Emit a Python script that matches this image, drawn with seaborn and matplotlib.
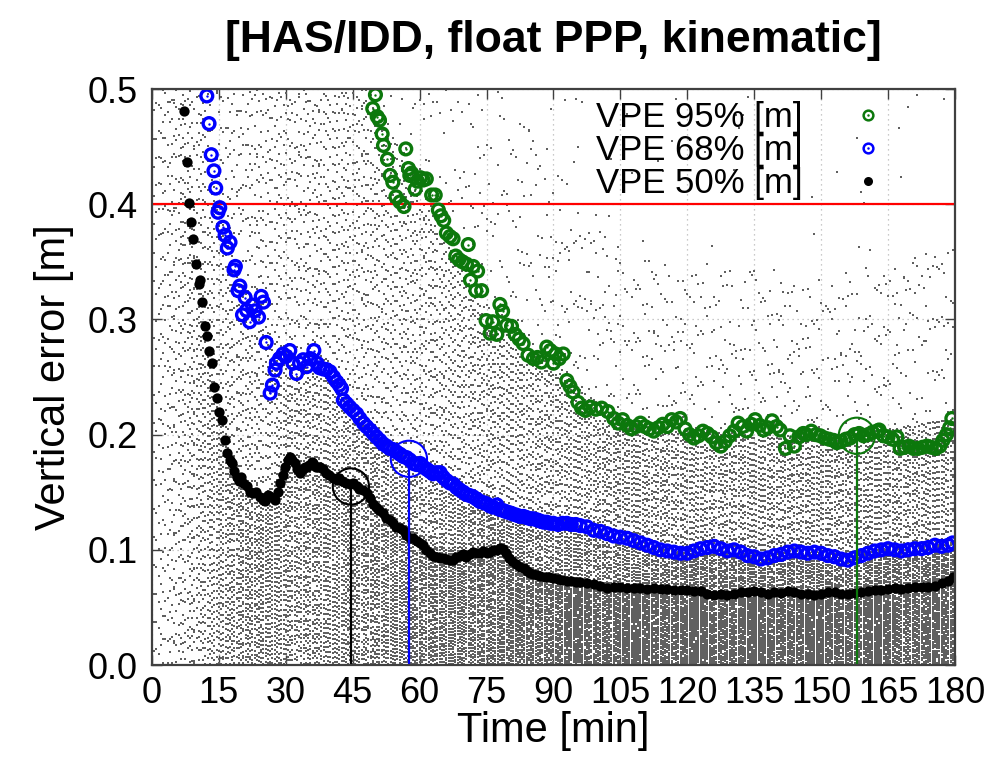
import numpy as np
import pandas as pd
import matplotlib
matplotlib.use("Agg")
import matplotlib.pyplot as plt
import seaborn as sns
from matplotlib.lines import Line2D
from matplotlib.legend_handler import HandlerTuple

# ---------------- data ----------------
title = "[HAS/IDD, float PPP, kinematic]"
x_label = "Time [min]"
y_label = "Vertical error [m]"
x_ticks = [0, 15, 30, 45, 60, 75, 90, 105, 120, 135, 150, 165, 180]
y_ticks = [0.0, 0.1, 0.2, 0.3, 0.4, 0.5]
threshold = 0.4

# VPE 50% [m]
t50 = [7.2, 7.8, 8.4, 8.8, 9.3, 9.9, 10.5, 10.8, 11.3, 11.9, 12.3, 12.8, 13.4, 13.9, 14.5, 15.1,
       15.6, 16.4, 16.9, 17.4, 17.9, 18.5, 19.0, 19.5, 20.0, 20.4, 21.2, 22.0, 22.7, 23.4, 24.2,
       24.8, 25.3, 26.1, 26.8, 27.6, 28.2, 28.7, 29.3, 29.8, 30.4, 30.9, 31.5, 32.0, 32.6, 33.2,
       33.8, 34.3, 34.7, 35.3, 35.8, 36.2, 36.8, 37.2, 37.7, 38.3, 39.1, 39.8, 40.5, 41.4, 42.0,
       42.7, 43.6, 44.3, 45.0, 45.9, 46.5, 47.2, 48.1, 48.8, 49.6, 50.3, 51.0, 51.8, 52.5, 53.3,
       54.1, 54.8, 55.5, 56.3, 57.0, 57.8, 58.6, 59.4, 60.1, 60.8, 61.5, 62.3, 63.0, 63.8, 64.5,
       65.3, 66.0, 66.8, 67.5, 68.2, 69.0, 69.8, 70.5, 71.2, 72.0, 72.8, 73.5, 74.3, 75.0, 75.8,
       76.5, 77.3, 78.0, 78.6, 79.3, 80.0, 80.8, 81.5, 82.5, 83.3, 84.0, 84.8, 85.5, 86.3, 87.0,
       88.0, 89.0, 90.0, 91.0, 92.0, 93.0, 94.0, 95.0, 96.0, 97.5, 99.0, 100.5, 102.0, 103.5,
       105.0, 106.5, 108.0, 109.5, 111.0, 112.5, 114.0, 115.5, 117.0, 118.5, 120.0, 121.5, 123.0,
       124.5, 126.0, 127.5, 129.0, 130.5, 132.0, 133.5, 135.0, 136.5, 138.0, 139.5, 141.0, 142.5,
       144.0, 145.5, 147.0, 148.5, 150.0, 151.5, 153.0, 154.5, 156.0, 157.5, 159.0, 160.5, 162.0,
       163.5, 165.0, 166.5, 168.0, 169.5, 171.0, 172.5, 174.0, 175.5, 177.0, 178.5, 179.5]
v50 = [0.481, 0.437, 0.401, 0.385, 0.370, 0.348, 0.331, 0.334, 0.315, 0.294, 0.286, 0.273, 0.262,
       0.241, 0.232, 0.220, 0.213, 0.195, 0.184, 0.178, 0.175, 0.168, 0.163, 0.160, 0.163, 0.158,
       0.155, 0.150, 0.149, 0.150, 0.146, 0.143, 0.142, 0.1475, 0.146, 0.143, 0.150, 0.158, 0.165,
       0.172, 0.178, 0.181, 0.178, 0.175, 0.170, 0.167, 0.170, 0.172, 0.172, 0.174, 0.176, 0.175,
       0.172, 0.172, 0.172, 0.170, 0.167, 0.165, 0.162, 0.161, 0.162, 0.160, 0.158, 0.157, 0.158,
       0.155, 0.153, 0.152, 0.149, 0.145, 0.140, 0.137, 0.135, 0.1316, 0.128, 0.126, 0.123, 0.120,
       0.119, 0.117, 0.113, 0.110, 0.110, 0.108, 0.106, 0.104, 0.100, 0.097, 0.095, 0.094, 0.093,
       0.093, 0.092, 0.091, 0.091, 0.094, 0.095, 0.096, 0.094, 0.096, 0.098, 0.097, 0.097, 0.099,
       0.097, 0.098, 0.100, 0.100, 0.102, 0.101, 0.097, 0.093, 0.090, 0.088, 0.0855, 0.084, 0.082,
       0.080, 0.079, 0.078, 0.077, 0.076, 0.0765, 0.0755, 0.075, 0.074, 0.073, 0.073, 0.072, 0.072,
       0.071, 0.070, 0.069, 0.067, 0.068, 0.068, 0.067, 0.067, 0.067, 0.066, 0.067, 0.066, 0.066,
       0.065, 0.065, 0.065, 0.064, 0.064, 0.062, 0.061, 0.062, 0.061, 0.062, 0.063, 0.063, 0.064,
       0.063, 0.062, 0.063, 0.0625, 0.064, 0.063, 0.062, 0.062, 0.061, 0.062, 0.063, 0.063, 0.062,
       0.062, 0.0625, 0.063, 0.064, 0.065, 0.065, 0.066, 0.067, 0.066, 0.067, 0.068, 0.068, 0.068,
       0.069, 0.071, 0.073, 0.076]

# VPE 68% [m]
t68 = [12.3, 12.8, 13.3, 13.9, 14.3, 14.8, 15.2, 15.9, 16.4, 16.9, 17.5, 18.4, 18.7, 19.3, 19.7,
       20.3, 20.9, 21.2, 21.9, 22.5, 23.1, 23.9, 24.5, 25.0, 25.6, 26.5, 27.0, 27.6, 27.9, 28.6,
       29.4, 30.1, 30.9, 31.6, 32.4, 33.1, 33.9, 34.7, 35.5, 36.3, 37.0, 37.6, 38.4, 39.1, 39.9,
       40.7, 41.4, 42.0, 42.5, 42.9, 43.6, 44.3, 45.1, 45.9, 46.6, 47.4, 48.1, 48.9, 49.6, 50.3,
       51.1, 51.8, 52.6, 53.3, 54.1, 54.8, 55.6, 56.3, 57.1, 57.8, 58.6, 59.3, 60.1, 60.8, 61.6,
       62.3, 63.0, 63.8, 64.6, 65.3, 66.1, 66.8, 67.6, 68.3, 69.0, 69.8, 70.5, 71.3, 72.0, 72.8,
       73.5, 74.3, 75.0, 75.8, 76.5, 77.3, 78.0, 78.8, 79.5, 80.3, 81.0, 81.8, 82.5, 83.3, 84.0,
       84.8, 85.5, 86.3, 87.0, 87.8, 88.5, 89.3, 90.0, 91.0, 92.0, 93.0, 94.0, 95.0, 96.0, 97.5,
       99.0, 100.5, 102.0, 103.5, 105.0, 106.5, 108.0, 109.5, 111.0, 112.5, 114.0, 115.5, 117.0,
       118.5, 120.0, 121.5, 123.0, 124.5, 126.0, 127.5, 129.0, 130.5, 132.0, 133.5, 135.0, 136.5,
       138.0, 139.5, 141.0, 142.5, 144.0, 145.5, 147.0, 148.5, 150.0, 151.5, 153.0, 154.5, 156.0,
       157.5, 159.0, 160.5, 162.0, 163.5, 165.0, 166.5, 168.0, 169.5, 171.0, 172.5, 174.0, 175.5,
       177.0, 178.5, 179.5]
v68 = [0.494, 0.470, 0.443, 0.429, 0.414, 0.393, 0.397, 0.380, 0.373, 0.362, 0.367, 0.343, 0.346,
       0.325, 0.329, 0.304, 0.319, 0.308, 0.298, 0.3125, 0.3075, 0.302, 0.320, 0.315, 0.280, 0.236,
       0.243, 0.256, 0.262, 0.266, 0.270, 0.268, 0.273, 0.262, 0.253, 0.262, 0.265, 0.259, 0.266,
       0.273, 0.262, 0.258, 0.257, 0.2565, 0.2546, 0.250, 0.246, 0.243, 0.240, 0.230, 0.227, 0.224,
       0.221, 0.218, 0.214, 0.210, 0.207, 0.204, 0.201, 0.198, 0.195, 0.192, 0.190, 0.188, 0.187,
       0.185, 0.183, 0.181, 0.180, 0.178, 0.175, 0.174, 0.175, 0.172, 0.170, 0.168, 0.166, 0.167,
       0.167, 0.163, 0.160, 0.158, 0.157, 0.154, 0.152, 0.150, 0.148, 0.147, 0.146, 0.144, 0.142,
       0.141, 0.140, 0.138, 0.137, 0.139, 0.135, 0.134, 0.133, 0.132, 0.131, 0.130, 0.129, 0.129,
       0.128, 0.127, 0.127, 0.126, 0.125, 0.124, 0.124, 0.123, 0.123, 0.122, 0.123, 0.123, 0.122,
       0.122, 0.121, 0.120, 0.117, 0.116, 0.114, 0.112, 0.111, 0.110, 0.108, 0.106, 0.104, 0.102,
       0.100, 0.099, 0.098, 0.097, 0.097, 0.099, 0.101, 0.102, 0.103, 0.101, 0.099, 0.100, 0.098,
       0.095, 0.094, 0.092, 0.093, 0.095, 0.096, 0.098, 0.099, 0.098, 0.097, 0.098, 0.097, 0.095,
       0.094, 0.092, 0.091, 0.093, 0.095, 0.097, 0.099, 0.100, 0.101, 0.100, 0.099, 0.100, 0.101,
       0.101, 0.102, 0.104, 0.103, 0.104, 0.106]

# VPE 95% [m]
t95 = [49.5, 50.1, 50.5, 51.0, 51.6, 51.9, 52.8, 53.4, 54.0, 54.7, 55.6, 56.5, 56.9, 57.5, 57.8,
       58.2, 59.0, 59.5, 60.2, 60.8, 61.5, 62.7, 63.5, 64.2, 64.8, 65.4, 66.0, 66.8, 67.5, 68.1,
       68.8, 69.6, 70.5, 70.9, 71.4, 72.0, 72.6, 73.0, 73.9, 74.9, 75.8, 76.4, 77.3, 78.0, 78.6,
       79.5, 80.6, 81.4, 82.3, 83.2, 84.3, 85.5, 86.4, 87.3, 88.5, 89.3, 90.0, 90.5, 91.3, 92.2,
       93.0, 93.7, 94.4, 95.5, 96.3, 97.2, 98.2, 99.5, 100.8, 102.2, 103.5, 104.5, 105.5, 106.5,
       107.5, 108.5, 109.5, 110.5, 111.5, 112.5, 113.5, 114.5, 115.5, 116.5, 117.5, 118.4, 119.5,
       120.5, 121.5, 122.5, 123.5, 124.5, 125.5, 126.5, 127.5, 128.5, 129.5, 130.5, 131.4, 132.4,
       133.3, 134.3, 135.2, 136.2, 137.1, 138.0, 139.0, 140.0, 140.8, 142.0, 143.0, 144.0, 145.0,
       146.0, 146.7, 147.8, 148.8, 149.8, 150.8, 151.8, 152.8, 153.5, 154.5, 155.5, 156.5, 157.5,
       158.5, 159.5, 160.5, 161.5, 162.5, 163.0, 164.0, 165.0, 166.0, 167.0, 167.7, 168.7, 169.7,
       170.7, 171.7, 172.7, 173.7, 174.7, 175.7, 176.6, 177.3, 178.1, 178.8, 179.3]
v95 = [0.483, 0.495, 0.476, 0.473, 0.461, 0.451, 0.439, 0.425, 0.419, 0.4065, 0.402, 0.398, 0.448,
       0.431, 0.425, 0.427, 0.413, 0.420, 0.423, 0.421, 0.422, 0.408, 0.408, 0.395, 0.390, 0.386,
       0.375, 0.372, 0.370, 0.355, 0.352, 0.350, 0.348, 0.365, 0.334, 0.346, 0.325, 0.342, 0.325,
       0.299, 0.288, 0.298, 0.287, 0.313, 0.307, 0.295, 0.294, 0.287, 0.283, 0.279, 0.269, 0.266,
       0.267, 0.263, 0.276, 0.273, 0.262, 0.270, 0.266, 0.270, 0.247, 0.242, 0.237, 0.228, 0.223,
       0.221, 0.224, 0.222, 0.223, 0.220, 0.214, 0.210, 0.213, 0.208, 0.205, 0.207, 0.210, 0.207,
       0.205, 0.203, 0.206, 0.209, 0.207, 0.213, 0.211, 0.214, 0.205, 0.200, 0.197, 0.199, 0.203,
       0.201, 0.198, 0.193, 0.190, 0.194, 0.199, 0.203, 0.210, 0.207, 0.203, 0.209, 0.213, 0.208,
       0.204, 0.206, 0.212, 0.207, 0.204, 0.188, 0.199, 0.190, 0.198, 0.201, 0.200, 0.203, 0.200,
       0.199, 0.197, 0.196, 0.195, 0.193, 0.194, 0.196, 0.197, 0.200, 0.201, 0.199, 0.200, 0.202,
       0.203, 0.204, 0.199, 0.198, 0.196, 0.198, 0.188, 0.189, 0.190, 0.188, 0.188, 0.189, 0.190,
       0.189, 0.188, 0.190, 0.195, 0.200, 0.206, 0.214]

# convergence markers (time [min], VPE [m]) for 50%, 68%, 95%
conv_t = [44.6, 57.6, 158.0]
conv_v = [0.155, 0.179, 0.199]

# envelope of the grey cloud of individual epoch errors (estimated from its density)
cloud_t = [0.5, 3, 6, 9, 12, 15, 20, 25, 30, 40, 50, 60, 75, 90, 105, 120, 150, 180]
cloud_q50 = [1.00, 0.80, 0.55, 0.38, 0.29, 0.22, 0.160, 0.145, 0.175, 0.165, 0.138, 0.106,
             0.097, 0.076, 0.068, 0.065, 0.062, 0.076]
cloud_q68 = [1.40, 1.15, 0.85, 0.65, 0.48, 0.39, 0.310, 0.300, 0.270, 0.252, 0.198, 0.174,
             0.140, 0.123, 0.111, 0.097, 0.097, 0.106]
cloud_q95 = [3.0, 2.6, 2.1, 1.7, 1.3, 1.0, 0.80, 0.70, 0.65, 0.58, 0.49, 0.42, 0.30, 0.26,
             0.213, 0.205, 0.197, 0.214]

# ---------------- styling ----------------
GREEN = "#0c780c"
BLUE = "#0000ff"
BLACK = "#000000"
RED = "#ff0000"
CLOUD = "#606060"

sns.set_theme(style="ticks")
plt.rcParams["font.family"] = ["Liberation Sans", "DejaVu Sans"]
for key in ("text.color", "axes.labelcolor", "xtick.labelcolor", "ytick.labelcolor"):
    plt.rcParams[key] = "black"

fig = plt.figure(figsize=(9.93, 7.57), dpi=100)
ax = fig.add_axes([0.153, 0.1215, 0.8087, 0.7609])


def van_der_corput(n, base):
    """Deterministic low-discrepancy value in [0, 1) for integer n."""
    q, denom = 0.0, 1.0
    while n > 0:
        n, rem = divmod(n, base)
        denom *= base
        q += rem / denom
    return q


# ---- grey cloud: each epoch column filled at low-discrepancy (Halton) quantile levels ----
n_per_col = 78
col_t = np.arange(0.5, 180.01, 0.5)
q50c = np.interp(col_t, cloud_t, cloud_q50)
q68c = np.interp(col_t, cloud_t, cloud_q68)
q95c = np.interp(col_t, cloud_t, cloud_q95)
pts_t, pts_v = [], []
for j, tc in enumerate(col_t):
    shift = van_der_corput(j + 1, 2)
    p = np.array([(van_der_corput(j * n_per_col + k + 1, 3) + shift) % 1.0
                  for k in range(n_per_col)])
    pp = [0.0, 0.50, 0.68, 0.95, 0.99, 1.0]
    vv = [0.0, q50c[j], q68c[j], q95c[j], 1.7 * q95c[j], 4.0 * q95c[j]]
    vals = np.interp(p, pp, vv)
    vals = vals[vals <= 0.505]
    pts_t.extend([tc] * len(vals))
    pts_v.extend(vals.tolist())
cloud_df = pd.DataFrame({"t": pts_t, "v": pts_v})
sns.scatterplot(data=cloud_df, x="t", y="v", ax=ax, marker="s", s=1.7, color=CLOUD,
                linewidth=0, zorder=1, legend=False)

# threshold line
ax.axhline(threshold, color=RED, lw=1.6, zorder=3)

# ---- percentile series ----
df95 = pd.DataFrame({"t": t95, "v": v95})
df68 = pd.DataFrame({"t": t68, "v": v68})
df50 = pd.DataFrame({"t": t50, "v": v50})

for df, col in ((df95, GREEN), (df68, BLUE)):
    sns.scatterplot(data=df, x="t", y="v", ax=ax, marker="o", s=72, facecolors="none",
                    edgecolor=col, linewidth=2.4, zorder=4, legend=False)
    sns.scatterplot(data=df, x="t", y="v", ax=ax, marker="o", s=3, color=col,
                    linewidth=0, zorder=4, legend=False)
sns.scatterplot(data=df50, x="t", y="v", ax=ax, marker="o", s=55, color=BLACK,
                linewidth=0, zorder=5, legend=False)

# ---- convergence markers ----
for tc, vc, col in zip(conv_t, conv_v, (BLACK, BLUE, GREEN)):
    ax.plot([tc, tc], [0, vc], color=col, lw=1.6, zorder=6)
    sns.scatterplot(x=[tc], y=[vc], ax=ax, marker="o", s=680, facecolors="none",
                    edgecolor=col, linewidth=1.5, zorder=6, legend=False)

# ---- axes ----
ax.set_xlim(0, 180)
ax.set_ylim(0, 0.5)
ax.set_xticks(x_ticks)
ax.set_yticks(y_ticks)
ax.set_xticklabels([str(v) for v in x_ticks])
ax.set_yticklabels([f"{v:.1f}" for v in y_ticks])
ax.tick_params(axis="both", which="major", direction="in", length=7, width=1.0,
               top=True, right=True, labelsize=26, color="#404040", labelcolor="black")
ax.tick_params(axis="x", pad=8)
ax.tick_params(axis="y", pad=10)
ax.grid(True, color="#b8b8b8", lw=0.9, ls=(0, (1, 3)))
ax.set_axisbelow(True)
for sp in ax.spines.values():
    sp.set_color("#404040")
    sp.set_linewidth(1.6)
    sp.set_zorder(10)

ax.set_xlabel(x_label, fontsize=30, labelpad=0, color="black")
ax.set_ylabel(y_label, fontsize=30, labelpad=10, color="black")
fig.text(0.557, 0.947, title, ha="center", va="center", fontsize=32,
         fontweight="bold", color="black")

# ---- legend ----
def ring(col):
    return Line2D([], [], ls="none", marker="o", mfc="none", mec=col, mew=1.8, ms=7)

def dot(col, ms):
    return Line2D([], [], ls="none", marker="o", mfc=col, mec=col, mew=0, ms=ms)

handles = [(ring(GREEN), dot(GREEN, 1.8)), (ring(BLUE), dot(BLUE, 1.8)), dot(BLACK, 6.5)]
labels = ["VPE 95% [m]", "VPE 68% [m]", "VPE 50% [m]"]
ax.legend(handles, labels, handler_map={tuple: HandlerTuple(ndivide=1, pad=0)},
          loc="upper right", bbox_to_anchor=(0.92, 0.866), bbox_transform=fig.transFigure,
          frameon=False, markerfirst=False, fontsize=25, labelspacing=0.0,
          handlelength=2.6, handletextpad=0.6, borderpad=0, borderaxespad=0)

fig.savefig("out.png", dpi=100)
